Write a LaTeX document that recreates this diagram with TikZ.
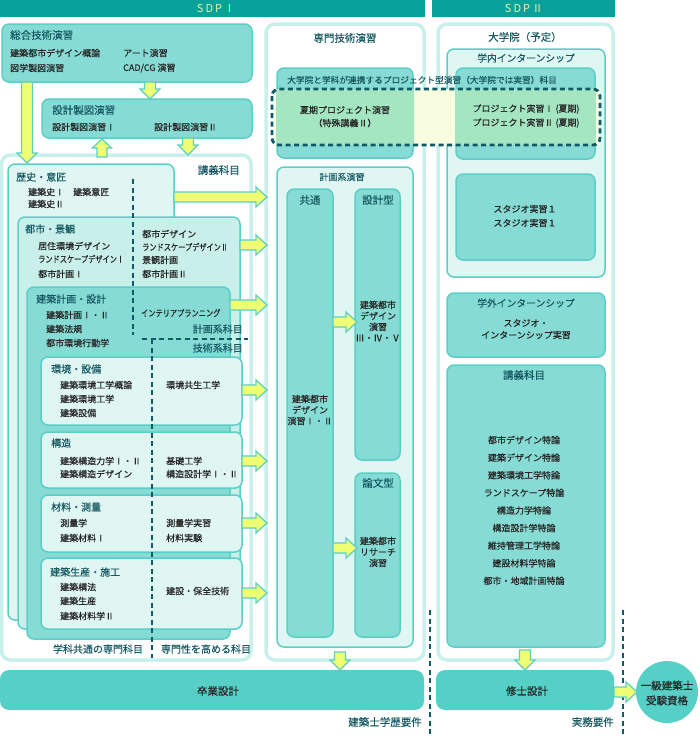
\documentclass[tikz,border=0pt]{standalone}
\usepackage{fontspec}
\usepackage{graphicx}
\setmainfont{Noto Sans CJK JP}[FakeBold=0.35]
\newfontfamily\sdpfont[LetterSpace=18]{Noto Sans CJK JP}
\definecolor{cBanner}{HTML}{09A29B}
\definecolor{cSDP}{HTML}{E6F3A6}
\definecolor{cTtl}{HTML}{175A63}
\definecolor{cTxt}{HTML}{262626}
\definecolor{cMed}{HTML}{86DBD4}
\definecolor{cLite}{HTML}{E0F6F3}
\definecolor{cLiteB}{HTML}{C8EFEA}
\definecolor{cBord}{HTML}{5BCEC6}
\definecolor{cPale}{HTML}{C8F1EC}
\definecolor{cBar}{HTML}{56CFC6}
\definecolor{cYel}{HTML}{EFFF74}
\definecolor{cGrn}{HTML}{A4E6C2}
\definecolor{cPYel}{HTML}{F8FDDF}
\definecolor{cDash}{HTML}{0F5A66}
\tikzset{
 medbox/.style={draw=cBord, fill=cMed, line width=1.5pt, rounded corners=7pt, inner sep=0pt, outer sep=0pt},
 litebox/.style={medbox, fill=cLite},
 liteboxb/.style={medbox, fill=cLiteB},
 outerbox/.style={draw=cPale, fill=white, line width=3.5pt, rounded corners=9pt, inner sep=0pt, outer sep=0pt},
 barbox/.style={fill=cBar, rounded corners=9pt, inner sep=0pt, outer sep=0pt},
 banbox/.style={fill=cBanner, inner sep=0pt, outer sep=0pt},
 sdp/.style={text=cSDP, font=\sdpfont\fontsize{11}{13}\selectfont, inner sep=0pt},
 ttl/.style={text=cTtl, font=\fontsize{10.5}{12}\selectfont, inner sep=0pt},
 sttl/.style={text=cTtl, font=\fontsize{10}{12}\selectfont, inner sep=0pt, anchor=west},
 itm/.style={text=cTxt, font=\fontsize{9}{11}\selectfont, inner sep=0pt, anchor=west},
 citm/.style={text=cTxt, font=\fontsize{9}{11}\selectfont, inner sep=0pt, align=center},
 yarr/.style={fill=cYel, draw=cBord, line width=1.2pt, line join=miter},
 dsh/.style={draw=cDash, line width=2.8pt, dash pattern=on 5pt off 3.5pt},
}
\newcommand\Bx[6]{\node[#6, anchor=north west, minimum width=#4pt-#2pt, minimum height=#5pt-#3pt] (#1) at (#2,#3) {};}
\newcommand\RA[3]{\filldraw[yarr] (#1,#3-5) -- (#2-11,#3-5) -- (#2-11,#3-10) -- (#2,#3) -- (#2-11,#3+10) -- (#2-11,#3+5) -- (#1,#3+5) -- cycle;}
\newcommand\DA[3]{\filldraw[yarr] (#1-5.5,#2) -- (#1-5.5,#3-10) -- (#1-10,#3-10) -- (#1,#3) -- (#1+10,#3-10) -- (#1+5.5,#3-10) -- (#1+5.5,#2) -- cycle;}
\newcommand\UA[3]{\filldraw[yarr] (#1-5,#2) -- (#1-5,#3+9) -- (#1-9.5,#3+9) -- (#1,#3) -- (#1+9.5,#3+9) -- (#1+5,#3+9) -- (#1+5,#2) -- cycle;}
\newcommand\cond[1]{\scalebox{0.8}[1]{#1}}
\begin{document}
\begin{tikzpicture}[x=1pt,y=-1pt]
\useasboundingbox (0,0) rectangle (700,750);
% banners
\Bx{ban1}{0}{0}{425}{17}{banbox}
\Bx{ban2}{432}{0}{615}{17}{banbox}
\node[sdp] (sdp1) at (216,8.5) {SDPⅠ};
\node[sdp] (sdp2) at (524,8.5) {SDPⅡ};
% column containers
\Bx{lect}{1.5}{155}{251}{660}{outerbox}
\Bx{spec}{266}{24}{424}{660}{outerbox}
\Bx{grad}{438}{24}{613}{660}{outerbox}
% top-left boxes
\Bx{sogo}{2}{24}{252}{82}{medbox}
\Bx{sekkei}{42}{99}{252}{138}{medbox}
% stacked boxes
\Bx{rekishi}{8}{164}{174}{620}{litebox}
\Bx{toshi}{18}{217}{240}{629}{liteboxb}
\Bx{kenchiku}{27}{287}{230}{639}{medbox}
\Bx{kankyo}{41}{357}{242}{425}{litebox}
\Bx{kozo}{41}{432}{242}{488}{litebox}
\Bx{zairyo}{41}{495}{242}{552}{litebox}
\Bx{seisan}{41}{558}{242}{629}{litebox}
% middle column
\Bx{proj}{277}{68}{413}{158}{medbox}
\Bx{keikaku}{277}{167}{413}{647}{litebox}
\Bx{kyotsu}{287}{189}{333}{637}{medbox}
\Bx{sekkeigata}{355}{189}{400}{460}{medbox}
\Bx{ronbun}{355}{473}{400}{637}{medbox}
% right column
\Bx{gakunai}{447}{49}{605}{277}{litebox}
\Bx{projr}{456}{68}{595}{159}{medbox}
\Bx{studio}{456}{174}{595}{260}{medbox}
\Bx{gakugai}{447}{293}{605}{357}{medbox}
\Bx{kogi}{447}{365}{605}{647}{medbox}
% bars
\Bx{sotsu}{0}{670}{424}{710}{barbox}
\Bx{shushi}{436}{670}{614}{710}{barbox}
\node[circle, fill=cBar, minimum size=62pt, inner sep=0pt] (qual) at (667,692) {};
% project overlay
\fill[cPYel] (274,89) rectangle (600,145);
\fill[cGrn] (276,89) rectangle (414,145);
\fill[cGrn] (455,89) rectangle (596,145);
\draw[dsh, rounded corners=7pt] (272,89) rectangle (600,145);
% dashed dividers
\draw[dsh] (133,179) -- (133,335);
\draw[dsh] (142,339) -- (248,339);
\draw[dsh] (152,339) -- (152,658);
\draw[dsh] (430,610) -- (430,736);
\draw[dsh] (623,610) -- (623,736);
% block arrows
\DA{27}{82}{163}
\DA{150}{82}{99}
\UA{102}{157}{139}
\DA{188}{138}{155}
\RA{174}{267}{197}
\RA{240}{267}{245}
\RA{230}{267}{305}
\RA{242}{267}{390}
\RA{242}{267}{461}
\RA{242}{267}{523}
\RA{242}{267}{593}
\RA{333}{357}{322}
\RA{333}{357}{548}
\DA{340}{652}{670}
\DA{525}{650}{670}
\RA{614}{637}{692}
% texts: top-left
\node[ttl, anchor=west] (t1) at (10,35) {総合技術演習};
\node[itm] (t2) at (10,53) {建築都市デザイン概論};
\node[itm] (t3) at (10,68) {図学製図演習};
\node[itm] (t4) at (123,53) {アート演習};
\node[itm] (t5) at (123,68) {CAD/CG 演習};
\node[ttl, anchor=west] (t6) at (52,110) {設計製図演習};
\node[itm] (t7) at (52,127) {設計製図演習Ⅰ};
\node[itm] (t8) at (154,127) {設計製図演習Ⅱ};
\node[ttl, anchor=east] (t9) at (240,170) {講義科目};
% 歴史・意匠
\node[sttl] (r0) at (16,177) {歴史・意匠};
\node[itm] (r1) at (28,192) {建築史Ⅰ};
\node[itm] (r2) at (73,192) {建築意匠};
\node[itm] (r3) at (28,204) {建築史Ⅱ};
% 都市・景観
\node[sttl] (u0) at (25,229) {都市・景観};
\node[itm] (u1) at (38,246) {居住環境デザイン};
\node[itm] (u2) at (38,259) {\cond{ランドスケープデザインⅠ}};
\node[itm] (u3) at (38,274) {都市計画Ⅰ};
\node[itm] (u4) at (142,234) {都市デザイン};
\node[itm] (u5) at (142,247) {\cond{ランドスケープデザインⅡ}};
\node[itm] (u6) at (142,260) {景観計画};
\node[itm] (u7) at (142,274) {都市計画Ⅱ};
% 建築計画・設計
\node[sttl] (k0) at (36,299) {建築計画・設計};
\node[itm] (k1) at (46,315) {建築計画Ⅰ・Ⅱ};
\node[itm] (k2) at (46,329) {建築法規};
\node[itm] (k3) at (46,343) {都市環境行動学};
\node[itm] (k4) at (141,313) {\cond{インテリアプランニング}};
\node[sttl, anchor=east] (k5) at (243,329) {計画系科目};
\node[sttl, anchor=east] (k6) at (243,348) {技術系科目};
% 環境・設備
\node[sttl] (e0) at (51,369) {環境・設備};
\node[itm] (e1) at (60,385) {建築環境工学概論};
\node[itm] (e2) at (60,399) {建築環境工学};
\node[itm] (e3) at (60,413) {建築設備};
\node[itm] (e4) at (166,385) {環境共生工学};
% 構造
\node[sttl] (s0) at (51,443) {構造};
\node[itm] (s1) at (60,461) {建築構造力学Ⅰ・Ⅱ};
\node[itm] (s2) at (60,474) {建築構造デザイン};
\node[itm] (s3) at (166,461) {基礎工学};
\node[itm] (s4) at (166,474) {構造設計学Ⅰ・Ⅱ};
% 材料・測量
\node[sttl] (m0) at (51,507) {材料・測量};
\node[itm] (m1) at (60,523) {測量学};
\node[itm] (m2) at (60,538) {建築材料Ⅰ};
\node[itm] (m3) at (166,523) {測量学実習};
\node[itm] (m4) at (166,538) {材料実験};
% 建築生産・施工
\node[sttl] (p0) at (50,572) {建築生産・施工};
\node[itm] (p1) at (60,587) {建築構法};
\node[itm] (p2) at (60,601) {建築生産};
\node[itm] (p3) at (60,616) {建築材料学Ⅱ};
\node[itm] (p4) at (166,591) {建設・保全技術};
\node[sttl, anchor=center] (b1) at (98,649) {学科共通の専門科目};
\node[sttl, anchor=center] (b2) at (206,649) {専門性を高める科目};
% middle texts
\node[ttl] (c0) at (345,38) {専門技術演習};
\node[itm, text=cTtl, font=\fontsize{8.7}{10}\selectfont] (c1) at (287,80) {大学院と学科が連携するプロジェクト型演習（大学院では実習）科目};
\node[citm] (c2) at (345,110) {夏期プロジェクト演習};
\node[citm] (c3) at (345,123) {（特殊講義Ⅱ）};
\node[text=cTtl, font=\fontsize{9}{11}\selectfont, inner sep=0pt] (c4) at (342,177) {計画系演習};
\node[ttl] (c5) at (310,200) {共通};
\node[ttl] (c6) at (378,200) {設計型};
\node[ttl] (c7) at (378,483) {論文型};
\node[citm] (c8) at (310,410) {建築都市\\デザイン\\演習Ⅰ・Ⅱ};
\node[citm] (c9) at (378,321) {建築都市\\デザイン\\演習\\Ⅲ・Ⅳ・Ⅴ};
\node[citm] (c10) at (378,552) {建築都市\\リサーチ\\演習};
% right texts
\node[ttl] (g0) at (525,37) {大学院（予定）};
\node[ttl, font=\fontsize{9.8}{12}\selectfont] (g1) at (526,58) {学内インターンシップ};
\node[citm] (g2) at (526,109) {プロジェクト実習Ⅰ (夏期)};
\node[citm] (g3) at (526,123) {プロジェクト実習Ⅱ (夏期)};
\node[citm] (g4) at (525,209) {スタジオ実習１};
\node[citm] (g5) at (525,223) {スタジオ実習１};
\node[ttl, font=\fontsize{9.8}{12}\selectfont] (g6) at (526,303) {学外インターンシップ};
\node[citm] (g7) at (526,323) {スタジオ・};
\node[citm] (g8) at (526,335) {インターンシップ実習};
\node[ttl] (g9) at (524,375) {講義科目};
\foreach \t [count=\i] in {都市デザイン特論,建築デザイン特論,建築環境工学特論,ランドスケープ特論,構造力学特論,構造設計学特論,維持管理工学特論,建設材料学特論,都市・地域計画特論}
  \node[citm] (h\i) at (524,422.4+17.6*\i) {\t};
% bottom texts
\node[citm, font=\fontsize{10.5}{12}\selectfont] (x1) at (218,691) {卒業設計};
\node[citm, font=\fontsize{10.5}{12}\selectfont] (x2) at (527,691) {修士設計};
\node[citm, font=\fontsize{10.5}{15}\selectfont] (x3) at (667,693) {一級建築士\\受験資格};
\node[ttl, anchor=east] (x4) at (422,722) {建築士学歴要件};
\node[ttl, anchor=east] (x5) at (614,722) {実務要件};
\end{tikzpicture}
\end{document}
